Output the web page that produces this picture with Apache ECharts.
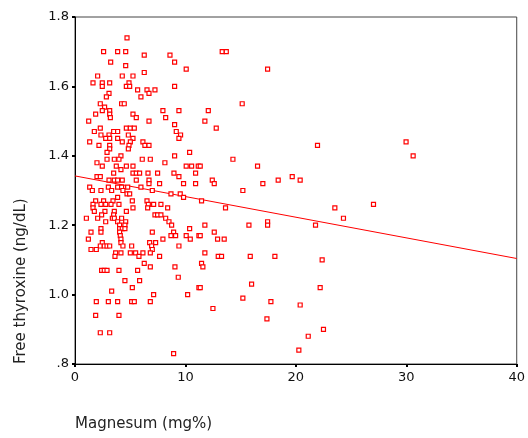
<!DOCTYPE html>
<html>
<head>
<meta charset="utf-8">
<script src="https://cdn.jsdelivr.net/npm/echarts@6/dist/echarts.min.js"></script>
<style>
html,body{margin:0;padding:0;background:#fff;}
#c{width:528px;height:438px;}
</style>
</head>
<body>
<div id="c"></div>
<script>
// Magnesium (mg%) values, paired index-by-index with thyroxine values below
const magnesium = [
  4.71,
  2.59,3.86,4.59,
  6.27,8.60,
  3.23,9.02,
  4.59,
  10.07,
  6.27,
  2.05,4.28,5.25,
  1.63,2.47,3.14,4.89,
  2.47,4.65,4.95,9.02,
  5.67,6.52,7.24,
  3.08,6.70,
  2.84,5.97,
  2.29,4.22,4.46,
  2.68,
  2.47,3.14,7.96,9.41,
  1.87,3.14,5.25,
  3.20,5.55,8.21,
  1.24,6.70,
  9.02,
  2.29,4.65,5.01,5.37,
  1.75,3.50,3.86,9.17,
  2.35,3.08,4.83,9.56,
  2.78,3.14,3.86,5.25,9.41,
  1.33,4.28,5.01,6.15,
  2.17,3.14,4.89,6.33,6.70,
  3.14,4.83,
  2.90,10.38,
  4.16,9.02,
  2.90,3.56,3.98,6.09,6.82,
  1.99,8.14,
  2.47,3.74,4.65,5.25,10.07,10.56,11.16,
  4.16,
  3.50,5.25,5.55,5.85,6.61,7.48,8.96,10.92,
  1.99,2.29,9.41,
  3.08,3.56,3.86,4.28,5.55,6.70,
  6.70,7.66,9.83,10.92,
  1.33,3.02,3.86,4.22,4.77,5.97,
  1.57,2.35,3.32,4.34,7.00,
  4.71,4.95,8.69,9.53,
  3.86,9.83,
  1.87,2.59,3.44,5.19,6.52,
  1.63,2.35,2.78,3.26,3.98,6.64,7.12,7.78,
  1.63,5.25,6.58,8.39,
  1.75,2.71,3.56,4.65,
  2.41,3.50,7.24,7.48,7.78,
  1.03,2.05,3.38,3.56,4.22,8.21,
  2.78,3.86,4.59,8.51,
  4.04,4.52,8.75,
  2.35,4.04,4.28,4.52,10.38,
  1.45,2.35,4.04,7.00,8.93,
  4.10,8.69,9.11,10.07,11.22,
  1.21,4.16,7.96,10.44,
  2.47,4.16,6.76,7.30,
  2.29,2.65,2.90,3.14,4.34,5.13,6.94,9.41,
  1.45,1.93,7.00,
  3.68,4.16,5.01,5.49,6.15,6.82,
  3.62,5.79,7.66,
  6.27,
  6.82,9.05,
  2.41,2.65,2.90,3.98,5.67,
  9.35,
  4.52,5.85,
  5.19,11.22,
  3.32,
  7.12,10.20,
  1.93,3.02,3.86,5.13,5.37,6.82,
  1.87,3.98,
  2.29,3.14,
  8.93,
  13.33,13.70,17.44,15.14,12.07,11.76,12.79,21.96,14.30,11.34,16.53,19.67,
  12.43,12.61,17.01,18.40,20.39,15.20,11.46,13.63,23.53,24.31,21.78,11.76,
  15.75,17.44,17.44,12.61,11.34,12.91,13.51,11.76,12.97,13.27,15.87,18.10,
  22.38,11.46,11.58,11.34,15.99,22.20,15.20,12.49,17.74,20.39,17.38,22.50,
  21.12,20.27,
  29.98,30.62,27.03
];
// Free thyroxine (ng/dL)
const thyroxine = [
  1.74,
  1.70,1.70,1.70,
  1.69,1.69,
  1.67,1.67,
  1.66,
  1.65,
  1.64,
  1.63,1.63,1.63,
  1.61,1.61,1.61,1.61,
  1.60,1.60,1.60,1.60,
  1.59,1.59,1.59,
  1.58,1.58,
  1.57,1.57,
  1.55,1.55,1.55,
  1.54,
  1.53,1.53,1.53,1.53,
  1.52,1.52,1.52,
  1.51,1.51,1.51,
  1.50,1.50,
  1.49,
  1.48,1.48,1.48,1.48,
  1.47,1.47,1.47,1.47,
  1.46,1.46,1.46,1.46,
  1.45,1.45,1.45,1.45,1.45,
  1.44,1.44,1.44,1.44,
  1.43,1.43,1.43,1.43,1.43,
  1.42,1.42,
  1.41,1.41,
  1.40,1.40,
  1.39,1.39,1.39,1.39,1.39,
  1.38,1.38,
  1.37,1.37,1.37,1.37,1.37,1.37,1.37,
  1.36,
  1.35,1.35,1.35,1.35,1.35,1.35,1.35,1.35,
  1.34,1.34,1.34,
  1.33,1.33,1.33,1.33,1.33,1.33,
  1.32,1.32,1.32,1.32,
  1.31,1.31,1.31,1.31,1.31,1.31,
  1.30,1.30,1.30,1.30,1.30,
  1.29,1.29,1.29,1.29,
  1.28,1.28,
  1.27,1.27,1.27,1.27,1.27,
  1.26,1.26,1.26,1.26,1.26,1.26,1.26,1.26,
  1.25,1.25,1.25,1.25,
  1.24,1.24,1.24,1.24,
  1.23,1.23,1.23,1.23,1.23,
  1.22,1.22,1.22,1.22,1.22,1.22,
  1.21,1.21,1.21,1.21,
  1.20,1.20,1.20,
  1.19,1.19,1.19,1.19,1.19,
  1.18,1.18,1.18,1.18,1.18,
  1.17,1.17,1.17,1.17,1.17,
  1.16,1.16,1.16,1.16,
  1.15,1.15,1.15,1.15,
  1.14,1.14,1.14,1.14,1.14,1.14,1.14,1.14,
  1.13,1.13,1.13,
  1.12,1.12,1.12,1.12,1.12,1.12,
  1.11,1.11,1.11,
  1.09,
  1.08,1.08,
  1.07,1.07,1.07,1.07,1.07,
  1.05,
  1.04,1.04,
  1.02,1.02,
  1.01,
  1.00,1.00,
  0.98,0.98,0.98,0.98,0.98,0.98,
  0.94,0.94,
  0.89,0.89,
  0.83,
  1.70,1.70,1.65,1.55,1.53,1.50,1.48,1.43,1.39,1.37,1.37,1.34,
  1.33,1.32,1.32,1.33,1.33,1.30,1.27,1.25,1.25,1.22,1.20,1.20,
  1.20,1.21,1.20,1.18,1.17,1.16,1.16,1.12,1.11,1.11,1.11,1.11,
  1.10,1.09,1.08,1.02,1.03,1.02,0.99,0.96,0.98,0.97,0.93,0.90,
  0.88,0.84,
  1.44,1.40,1.26
];
// Linear fit line end points
const fitX = [0, 40];
const fitY = [1.342, 1.104];
// Axis ticks
const xTicks = [0, 10, 20, 30, 40];
const yTicks = [0.8, 1.0, 1.2, 1.4, 1.6, 1.8];

const points = magnesium.map((m, i) => [m, thyroxine[i]]);
const fitLine = fitX.map((x, i) => [x, fitY[i]]);

const chart = echarts.init(document.getElementById('c'), null, {renderer: 'canvas'});
const FONT = 'DejaVu Sans';
chart.setOption({
  animation: false,
  backgroundColor: '#ffffff',
  grid: {left: 75, right: 11, top: 17, bottom: 74, show: true, borderColor: '#444', borderWidth: 1, backgroundColor: 'transparent'},
  xAxis: {
    type: 'value', min: xTicks[0], max: xTicks[xTicks.length - 1], interval: 10,
    axisLine: {lineStyle: {color: '#000', width: 1}},
    axisTick: {show: true, length: 3, inside: false, lineStyle: {color: '#000', width: 2}},
    axisLabel: {color: '#111', fontFamily: FONT, fontSize: 13, margin: 7},
    splitLine: {show: false}
  },
  yAxis: {
    type: 'value', min: yTicks[0], max: yTicks[yTicks.length - 1], interval: 0.2,
    axisLine: {show: true, lineStyle: {color: '#000', width: 1}},
    axisTick: {show: true, length: 3, lineStyle: {color: '#000', width: 2}},
    axisLabel: {color: '#111', fontFamily: FONT, fontSize: 13, margin: 6,
      formatter: v => v.toFixed(1).replace(/^0/, '')},
    splitLine: {show: false}
  },
  graphic: [
    {type: 'text', x: 75, y: 424, style: {text: 'Magnesum (mg%)', font: '15px "DejaVu Sans"', fill: '#222', textAlign: 'left', textVerticalAlign: 'middle'}},
    {type: 'text', x: 21, y: 364, rotation: Math.PI / 2, style: {text: 'Free thyroxine (ng/dL)', font: '15px "DejaVu Sans"', fill: '#222', textAlign: 'left', textVerticalAlign: 'middle'}}
  ],
  series: [
    {
      type: 'line', data: fitLine, symbol: 'none', silent: true,
      lineStyle: {color: '#ff0000', width: 1}, z: 2
    },
    {
      type: 'scatter', data: points, symbol: 'rect', symbolSize: 4,
      itemStyle: {color: '#ffffff', borderColor: '#ff0000', borderWidth: 1.2, opacity: 1}, z: 3
    }
  ]
});
</script>
</body>
</html>
